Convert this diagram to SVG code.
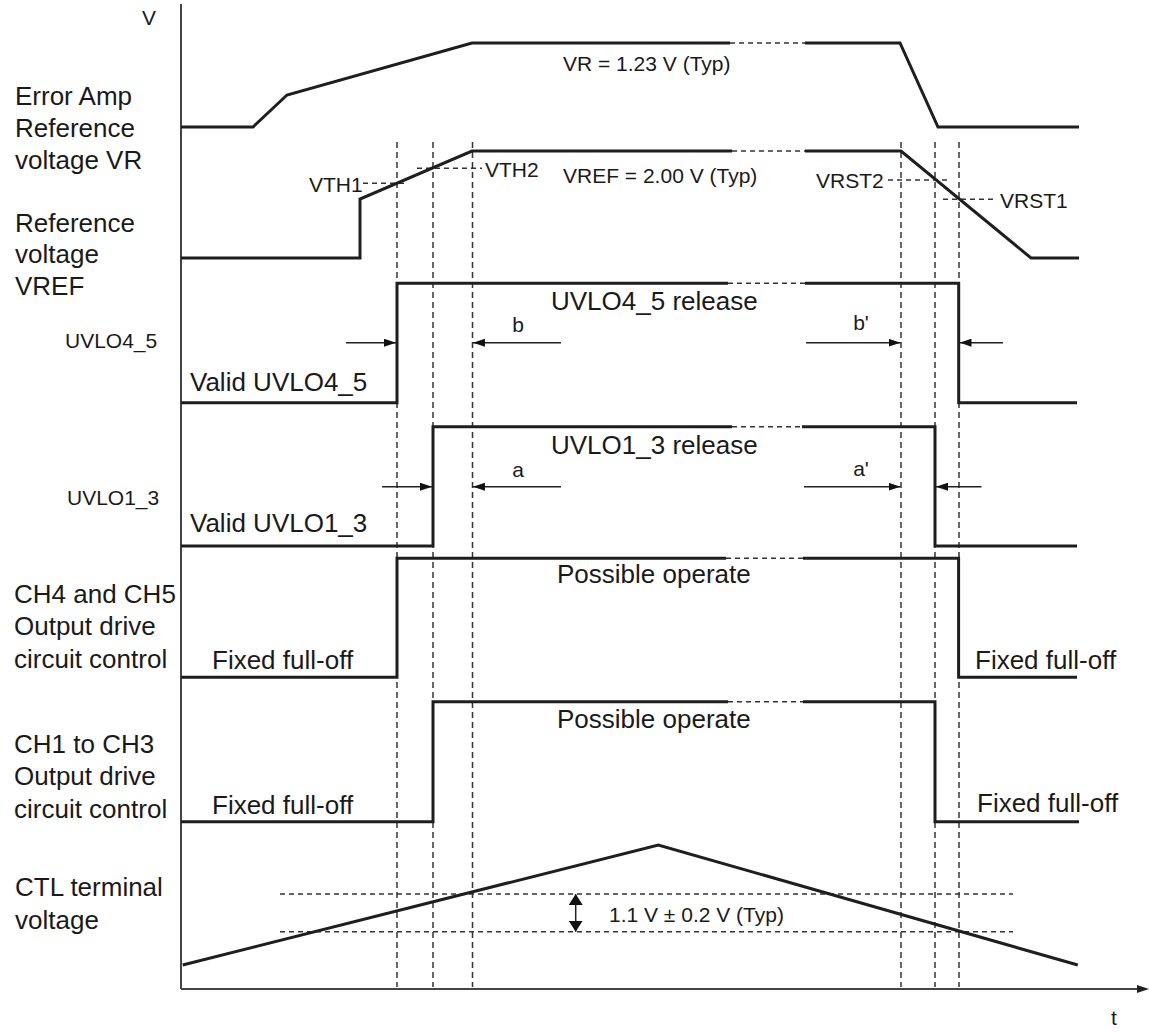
<svg xmlns="http://www.w3.org/2000/svg" width="1149" height="1032" viewBox="0 0 1149 1032">
<defs>
<style>
text{font-family:"Liberation Sans",Arial,Helvetica,sans-serif;fill:#1a1a1a}
.big{font-size:26px}
.sm{font-size:21px}
.mid{text-anchor:middle}
.wave{fill:none;stroke:#1e1e1e;stroke-width:3;stroke-linejoin:miter}
.gap{fill:none;stroke:#333;stroke-width:1.5;stroke-dasharray:5 4}
.guide{fill:none;stroke:#333;stroke-width:1.5;stroke-dasharray:6 4}
.axis{stroke:#444;stroke-width:2;fill:none}
.dim{stroke:#222;stroke-width:1.5;fill:none}
</style>
<marker id="ah" markerUnits="userSpaceOnUse" markerWidth="12" markerHeight="8" refX="12" refY="4" orient="auto">
<path d="M0,0 L12,4 L0,8 z" fill="#111"/>
</marker>
<marker id="ah2" markerUnits="userSpaceOnUse" markerWidth="11" markerHeight="14" refX="11" refY="7" orient="auto-start-reverse">
<path d="M0,0 L11,7 L0,14 z" fill="#111"/>
</marker>
</defs>
<rect width="1149" height="1032" fill="#fff"/>

<g id="axes">
<line class="axis" x1="181" y1="4" x2="181" y2="989"/>
<line class="axis" x1="181" y1="989" x2="1140" y2="989"/>
<polygon points="1137,985 1149,989 1137,993" fill="#222"/>
<text class="sm" x="142" y="25">V</text>
<text class="sm" x="1111" y="1025">t</text>
</g>

<g id="guides">
<line class="guide" x1="397" y1="142" x2="397" y2="987"/>
<line class="guide" x1="433" y1="142" x2="433" y2="987"/>
<line class="guide" x1="472.5" y1="142" x2="472.5" y2="987"/>
<line class="guide" x1="901" y1="142" x2="901" y2="987"/>
<line class="guide" x1="935" y1="142" x2="935" y2="987"/>
<line class="guide" x1="959" y1="142" x2="959" y2="987"/>
<line class="gap" x1="363" y1="183.3" x2="408" y2="183.3"/>
<line class="gap" x1="417" y1="168.3" x2="482" y2="168.3"/>
<line class="gap" x1="888" y1="180" x2="948" y2="180"/>
<line class="gap" x1="943" y1="199.3" x2="997" y2="199.3"/>
<line class="gap" x1="280" y1="894" x2="1013" y2="894"/>
<line class="gap" x1="280" y1="931.7" x2="1013" y2="931.7"/>
</g>

<g id="vr">
<polyline class="wave" points="181,127 253,127 287,95 472,43 730,43"/>
<line class="gap" x1="730" y1="43" x2="805" y2="43"/>
<polyline class="wave" points="805,43 900,43 938,127 1079,127"/>
<text class="big" x="15" y="105">Error Amp</text>
<text class="big" x="15" y="137">Reference</text>
<text class="big" x="15" y="169">voltage VR</text>
<text class="sm" x="563" y="71">VR = 1.23 V (Typ)</text>
</g>

<g id="vref">
<polyline class="wave" points="181,258 360,258 360,199 472,151 732,151"/>
<line class="gap" x1="732" y1="151" x2="805" y2="151"/>
<polyline class="wave" points="805,151 901,151 1031,258 1079,258"/>
<text class="big" x="15" y="232">Reference</text>
<text class="big" x="15" y="263">voltage</text>
<text class="big" x="15" y="295">VREF</text>
<text class="sm" x="309" y="191.5">VTH1</text>
<text class="sm" x="485" y="176.5">VTH2</text>
<text class="sm" x="563" y="182.5">VREF = 2.00 V (Typ)</text>
<text class="sm" x="816" y="187.5">VRST2</text>
<text class="sm" x="1000" y="208">VRST1</text>
</g>

<g id="uvlo45">
<polyline class="wave" points="181,402.7 397,402.7 397,283.3 728,283.3"/>
<line class="gap" x1="728" y1="283.3" x2="805" y2="283.3"/>
<polyline class="wave" points="805,283.3 958.7,283.3 958.7,402.7 1077,402.7"/>
<text class="sm" x="65" y="348">UVLO4_5</text>
<text class="big" x="190" y="391">Valid UVLO4_5</text>
<text class="big" x="551" y="310">UVLO4_5 release</text>
<text class="sm mid" x="518" y="332">b</text>
<text class="sm mid" x="861" y="330">b'</text>
</g>

<g id="uvlo13">
<polyline class="wave" points="181,546 433,546 433,426.7 732,426.7"/>
<line class="gap" x1="732" y1="426.7" x2="802" y2="426.7"/>
<polyline class="wave" points="802,426.7 935,426.7 935,546 1077,546"/>
<text class="sm" x="67" y="505">UVLO1_3</text>
<text class="big" x="190" y="532">Valid UVLO1_3</text>
<text class="big" x="551" y="453.5">UVLO1_3 release</text>
<text class="sm mid" x="518" y="476.5">a</text>
<text class="sm mid" x="861" y="476">a'</text>
</g>

<g id="ch45">
<polyline class="wave" points="181,677.3 397,677.3 397,558.3 726,558.3"/>
<line class="gap" x1="726" y1="558.3" x2="803" y2="558.3"/>
<polyline class="wave" points="803,558.3 958.6,558.3 958.6,677.3 1077,677.3"/>
<text class="big" x="14" y="603">CH4 and CH5</text>
<text class="big" x="14" y="635">Output drive</text>
<text class="big" x="14" y="667.5">circuit control</text>
<text class="big" x="212" y="669">Fixed full-off</text>
<text class="big" x="557" y="583">Possible operate</text>
<text class="big" x="975" y="669">Fixed full-off</text>
</g>

<g id="ch13">
<polyline class="wave" points="181,821.7 433,821.7 433,701.7 728,701.7"/>
<line class="gap" x1="728" y1="701.7" x2="803" y2="701.7"/>
<polyline class="wave" points="803,701.7 935,701.7 935,821.7 1079,821.7"/>
<text class="big" x="14" y="753">CH1 to CH3</text>
<text class="big" x="14" y="785">Output drive</text>
<text class="big" x="14" y="818">circuit control</text>
<text class="big" x="212" y="814">Fixed full-off</text>
<text class="big" x="557" y="728">Possible operate</text>
<text class="big" x="977" y="811.5">Fixed full-off</text>
</g>

<g id="ctl">
<polyline class="wave" points="182.7,965 658.3,845 1077.8,965"/>
<text class="big" x="15" y="896">CTL terminal</text>
<text class="big" x="15" y="929">voltage</text>
<text class="sm" x="609" y="921.5">1.1 V ± 0.2 V (Typ)</text>
</g>

<g id="connectors">
<line class="dim" x1="346" y1="342.7" x2="396" y2="342.7" marker-end="url(#ah)"/>
<line class="dim" x1="561" y1="342.7" x2="473" y2="342.7" marker-end="url(#ah)"/>
<line class="dim" x1="806" y1="342.7" x2="900.5" y2="342.7" marker-end="url(#ah)"/>
<line class="dim" x1="1003" y1="342.7" x2="959.5" y2="342.7" marker-end="url(#ah)"/>
<line class="dim" x1="382" y1="486.7" x2="432" y2="486.7" marker-end="url(#ah)"/>
<line class="dim" x1="561" y1="486.7" x2="473" y2="486.7" marker-end="url(#ah)"/>
<line class="dim" x1="804" y1="486.7" x2="900.5" y2="486.7" marker-end="url(#ah)"/>
<line class="dim" x1="981.5" y1="486.7" x2="936" y2="486.7" marker-end="url(#ah)"/>
<line class="dim" x1="575.7" y1="894" x2="575.7" y2="931.7" marker-start="url(#ah2)" marker-end="url(#ah2)"/>
</g>
</svg>
